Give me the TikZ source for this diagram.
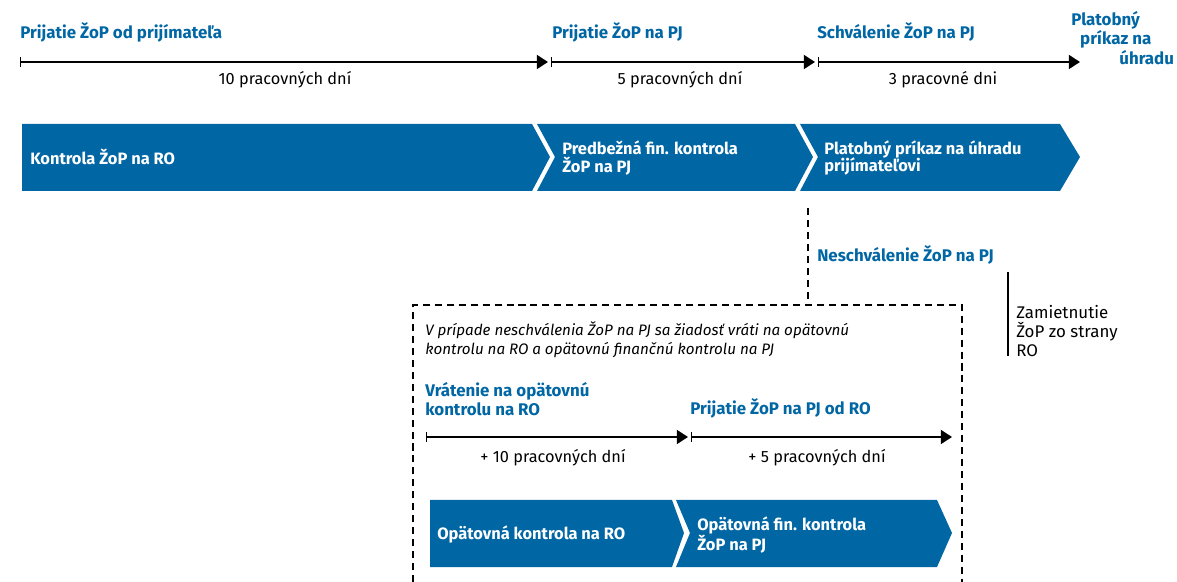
\documentclass[tikz,border=0pt]{standalone}
\usepackage{fontspec}
\setmainfont{Fira Sans}
\usepackage{tikz}
\usetikzlibrary{arrows.meta,positioning}
\definecolor{ublue}{HTML}{0066A4}

\tikzset{
	milestone/.style={text=ublue,font=\bfseries\fontsize{12}{14}\selectfont,anchor=west,inner sep=0pt,align=left},
	days/.style={font=\fontsize{11.6}{14}\selectfont,inner sep=0pt},
	timeline/.style={{Bar[width=7pt,line width=1pt]}-{Triangle[length=8pt,width=10pt]},line width=1.4pt},
	phase/.style={fill=ublue},
	phasetext/.style={text=white,font=\bfseries\fontsize{11.7}{12.5}\selectfont,anchor=west,inner sep=0pt,align=left},
	note/.style={font=\fontsize{12}{13.5}\selectfont,anchor=west,inner sep=0pt,align=left},
	boxline/.style={line width=1pt,dash pattern=on 5pt off 3.5pt}
}

\begin{document}
\begin{tikzpicture}[x=0.025cm,y=-0.025cm]
	\useasboundingbox (0,0) rectangle (1177,582);

	% top time axis
	\coordinate (a0) at (20,62);
	\coordinate (a1) at (548,62);
	\coordinate (b0) at (551,62);
	\coordinate (b1) at (815,62);
	\coordinate (c0) at (818,62);
	\coordinate (c1) at (1080,62);
	\draw[timeline] (a0) -- (a1);
	\draw[timeline] (b0) -- (b1);
	\draw[timeline] (c0) -- (c1);

	\node[milestone] (recv) at (20,32) {Prijatie ŽoP od prijímateľa};
	\node[milestone] (recvpj) at (552,32) {Prijatie ŽoP na PJ};
	\node[milestone] (appr) at (817,32) {Schválenie ŽoP na PJ};
	\node[milestone] (order) at (1071,38) {Platobný\\\hspace*{0.53em}príkaz na\\\hspace*{2.85em}úhradu};

	\node[days] (d1) at (285,80) {10 pracovných dní};
	\node[days] (d2) at (680,80) {5 pracovných dní};
	\node[days] (d3) at (943,80) {3 pracovné dni};

	% phases
	\fill[phase] (22,124) -- (532,124) -- (550,157) -- (532,191) -- (22,191) -- cycle;
	\fill[phase] (537,124) -- (795,124) -- (813,157) -- (795,191) -- (537,191) -- (555,157) -- cycle;
	\fill[phase] (800,124) -- (1060,124) -- (1080,157) -- (1060,191) -- (800,191) -- (818,157) -- cycle;
	\node[phasetext] (p1) at (30,157) {Kontrola ŽoP na RO};
	\node[phasetext] (p2) at (562,158) {Predbežná fin. kontrola\\ŽoP na PJ};
	\node[phasetext] (p3) at (824,158) {Platobný príkaz na úhradu\\prijímateľovi};

	% rejection
	\coordinate (rj) at (808,208);
	\coordinate (rjbox) at (808,305);
	\draw[boxline] (rj) -- (rjbox);
	\node[milestone] (rej) at (817,255) {Neschválenie ŽoP na PJ};
	\coordinate (z0) at (1008,272);
	\coordinate (z1) at (1008,356);
	\draw[line width=1pt] (z0) -- (z1);
	\node[note] (zam) at (1016,331) {Zamietnutie\\ŽoP zo strany\\RO};

	% dashed box
	\draw[boxline] (413,582) -- (413,305) -- (962,305) -- (962,582);
	\node[note,font=\itshape\fontsize{10.8}{13.5}\selectfont] (info) at (425,340) {V prípade neschválenia ŽoP na PJ sa žiadosť vráti na opätovnú\\kontrolu na RO a opätovnú finančnú kontrolu na PJ};
	\node[milestone] (ret) at (425,399) {Vrátenie na opätovnú\\kontrolu na RO};
	\node[milestone] (recvro) at (690,408) {Prijatie ŽoP na PJ od RO};

	\coordinate (e0) at (426,437);
	\coordinate (e1) at (688,437);
	\coordinate (f0) at (691,437);
	\coordinate (f1) at (952,437);
	\draw[timeline] (e0) -- (e1);
	\draw[timeline] (f0) -- (f1);
	\node[days] (d4) at (553,458) {+ 10 pracovných dní};
	\node[days] (d5) at (817,458) {+ 5 pracovných dní};

	\fill[phase] (430,500) -- (672,500) -- (684,533) -- (672,567) -- (430,567) -- cycle;
	\fill[phase] (676,500) -- (937,500) -- (952,533) -- (937,567) -- (676,567) -- (690,533) -- cycle;
	\node[phasetext] (q1) at (437,534) {Opätovná kontrola na RO};
	\node[phasetext] (q2) at (697,535) {Opätovná fin. kontrola\\ŽoP na PJ};
\end{tikzpicture}
\end{document}
